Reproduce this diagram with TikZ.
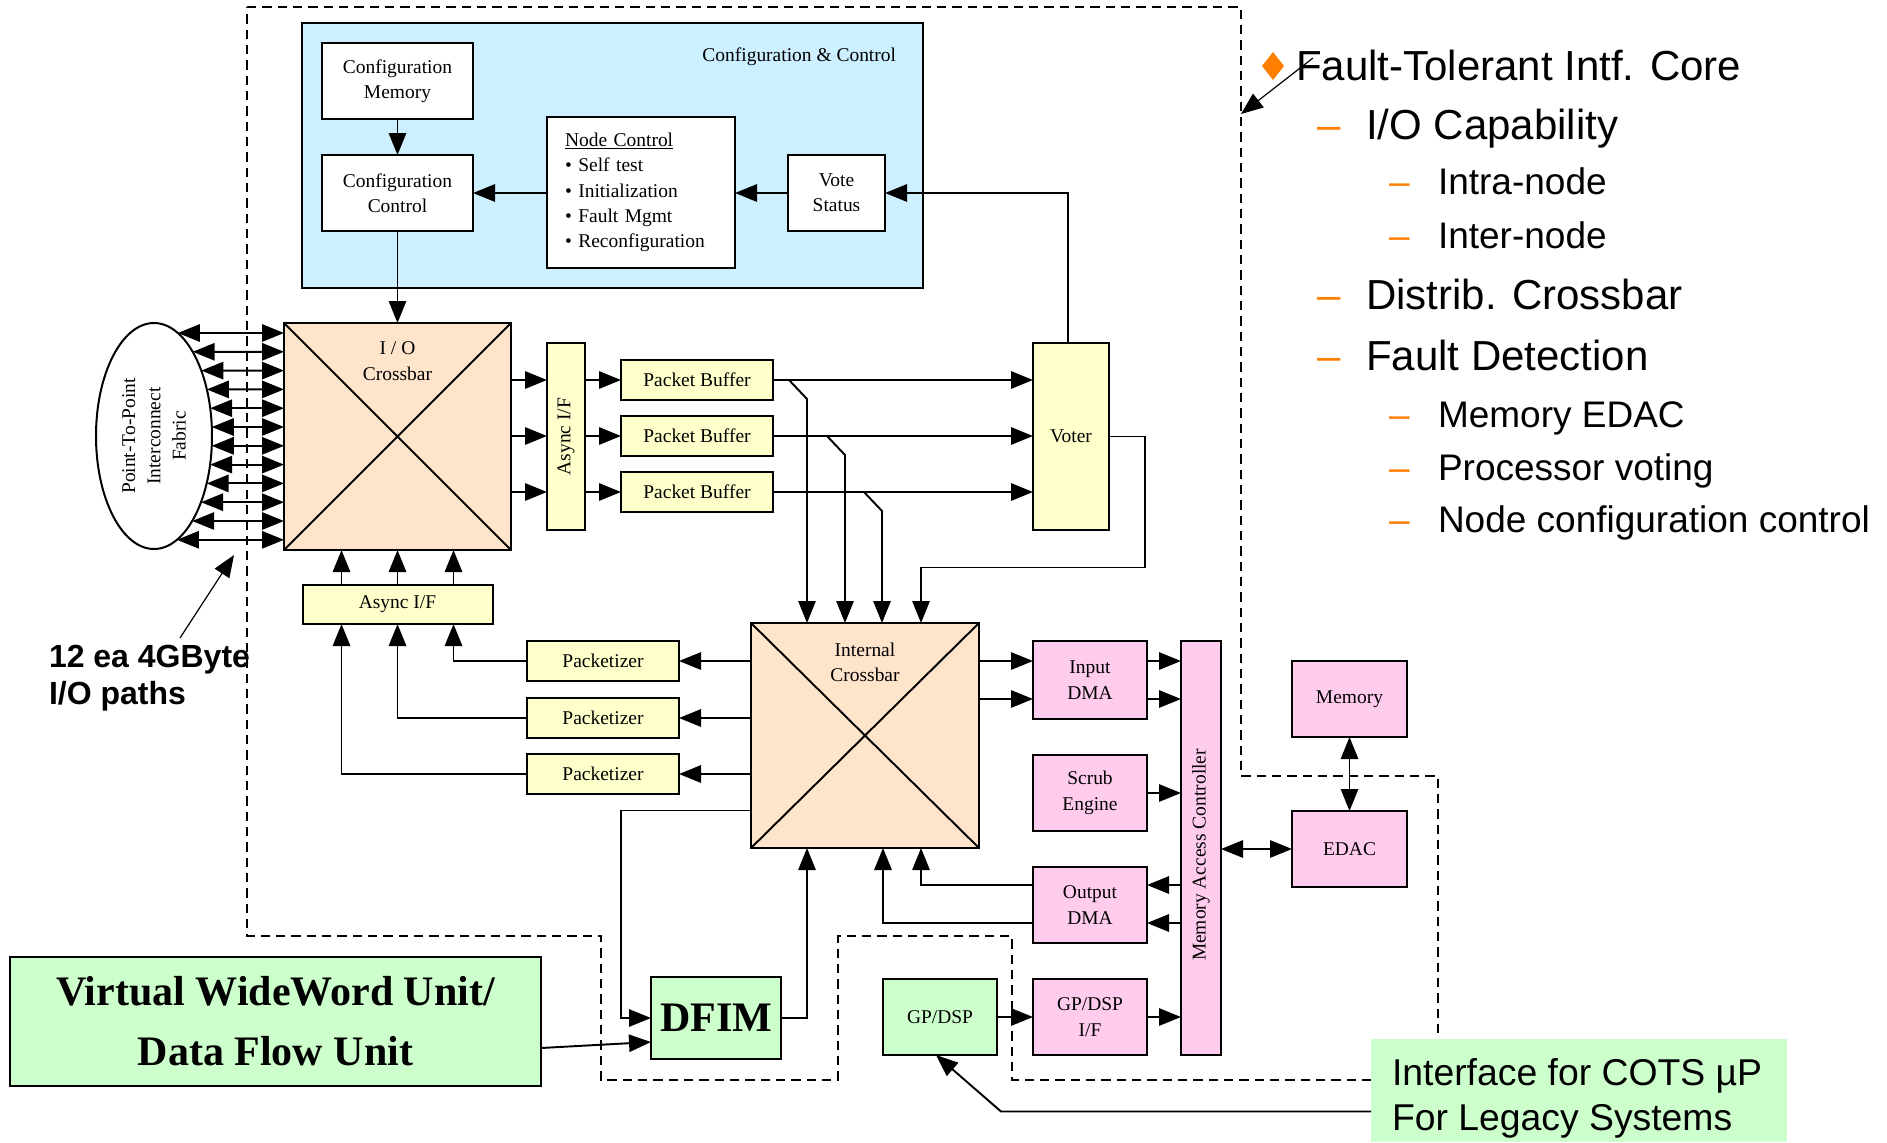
\documentclass[tikz,border=0pt]{standalone}
\usepackage{fontspec}
\setmainfont{Liberation Serif}
\newfontfamily\arialfont{Liberation Sans}
\usepackage{tikz}
\usetikzlibrary{calc}
\usetikzlibrary{positioning}
\usetikzlibrary{arrows.meta, shapes.geometric}

\newcommand\boxfont{\fontsize{14.6}{19}\selectfont}
\newcommand\bigbold{\fontsize{31.5}{45}\selectfont\bfseries}
\newcommand\listfont{\arialfont\fontsize{31.5}{38}\selectfont}
\newcommand\sublistfont{\arialfont\fontsize{27.75}{33}\selectfont}

\begin{document}
\begin{tikzpicture}[x=0.75pt,y=0.75pt,yscale=-1,xscale=1,
    every node/.style={inner sep=0pt,outer sep=0pt},
    sz/.style 2 args={minimum width=#1*0.75pt,minimum height=#2*0.75pt},
    blk/.style={draw,line width=1.5pt,align=center,font=\boxfont},
    ylw/.style={blk,fill={rgb, 255:red, 255; green, 255; blue, 204 }},
    pnk/.style={blk,fill={rgb, 255:red, 255; green, 204; blue, 238 }},
    grn/.style={blk,fill={rgb, 255:red, 204; green, 255; blue, 204 }},
    xbar/.style={blk,fill={rgb, 255:red, 255; green, 228; blue, 204 }},
    lbl/.style={align=center,font=\boxfont},
    wire/.style={line width=1.45pt},
    arr/.style={wire,-{Triangle[length=16.5pt,width=13pt]}},
    dbl/.style={wire,{Triangle[length=16.5pt,width=13pt]}-{Triangle[length=16.5pt,width=13pt]}},
    odash/.style={font=\listfont,text={rgb, 255:red, 255; green, 128; blue, 0 }}]
\useasboundingbox (0,0) rectangle (1887,1142);

%Dashed boundary
\draw [line width=1.1pt,dash pattern=on 7pt off 4.5pt] (247,7) -- (1241,7) -- (1241,776) -- (1438,776) -- (1438,1080) -- (1012,1080) -- (1012,936) -- (838,936) -- (838,1080) -- (601,1080) -- (601,936) -- (247,936) -- cycle ;

%Shape: Rectangle - configuration & control area
\node [blk,sz={621}{265},fill={rgb, 255:red, 204; green, 240; blue, 255 }] (cfgarea) at (612.5,155.5) {};
% Text Node
\node [lbl,anchor=east] (cfglbl) at (896,57) {Configuration \& Control};
\node [blk,sz={151}{76},fill=white] (cfgmem) at (397.5,81) {Configuration\\Memory};
\node [blk,sz={151}{76},fill=white] (cfgctl) at (397.5,193) {Configuration\\Control};
\node [blk,sz={188}{151},fill=white,text width=114pt,inner xsep=13.5pt,align=left] (nodectl) at (641,192.5) {\underline{Node Control}\\\textbullet\ Self test\\\textbullet\ Initialization\\\textbullet\ Fault Mgmt\\\textbullet\ Reconfiguration};
\node [blk,sz={97}{76},fill=white] (vote) at (836.5,193) {Vote\\Status};

\draw [arr] (cfgmem) -- (cfgctl);
\draw [arr] (nodectl.west |- cfgctl.east) -- (cfgctl.east);
\draw [arr] (vote.west) -- (nodectl.east |- vote.west);

%Shape: I/O crossbar
\node [xbar,sz={227}{227}] (ioxbar) at (397.5,436.5) {};
\draw [wire] (ioxbar.north west) -- (ioxbar.south east) (ioxbar.south west) -- (ioxbar.north east);
% Text Node
\node [lbl] (iolbl) at (397.5,361) {I / O\\Crossbar};
\draw [arr] (cfgctl.south) -- (ioxbar.north);

%Shape: Ellipse
\node [draw,ellipse,line width=1.5pt,fill=white,sz={116}{226}] (fabric) at (154,436) {};
\node [lbl,rotate=90] (fablbl) at (154,436) {Point-To-Point\\Interconnect\\Fabric};

%Straight Lines - 12 I/O paths
\foreach \i in {0,...,11} {
  \pgfmathsetmacro\yy{333+18.8*\i}
  \pgfmathsetmacro\xx{154+58*sqrt(1-((\yy-436)/113)^2)}
  \draw [dbl] (\xx,\yy) -- ($(ioxbar.west)+(0,\yy-436.5)$);
}

%Shape: Async I/F, packet buffers, voter
\node [ylw,sz={38}{187}] (asyncv) at (566,436.5) {};
\node [lbl,rotate=90] (asyncvlbl) at (566,436.5) {Async I/F};
\node [ylw,sz={76}{187}] (voter) at (1071,436.5) {Voter};
\foreach \n/\y in {1/380,2/436,3/492} {
  \node [ylw,sz={152}{40}] (pb\n) at (697,\y) {Packet Buffer};
  \draw [arr] (ioxbar.east |- pb\n) -- (asyncv.west |- pb\n);
  \draw [arr] (asyncv.east |- pb\n) -- (pb\n.west);
  \draw [arr] (pb\n.east) -- (voter.west |- pb\n);
}
\draw [arr] ($(voter.north)+(-3,0)$) |- (vote.east);

%Shape: Internal crossbar
\node [xbar,sz={228}{225}] (ixbar) at (865,735.5) {};
\draw [wire] (ixbar.north west) -- (ixbar.south east) (ixbar.south west) -- (ixbar.north east);
% Text Node
\node [lbl] (ixlbl) at (865,662) {Internal\\Crossbar};

% packet buffer taps into internal crossbar
\draw [arr] ($(pb1.east)+(16,0)$) -- ++(18,19) coordinate (br1) -- (br1 |- ixbar.north);
\draw [arr] ($(pb2.east)+(54,0)$) -- ++(18,19) coordinate (br2) -- (br2 |- ixbar.north);
\draw [arr] ($(pb3.east)+(91,0)$) -- ++(18,19) coordinate (br3) -- (br3 |- ixbar.north);
\draw [arr] (voter.east) -- ++(36,0) -- ++(0,131) -| ($(ixbar.north)+(56,0)$);

%Shape: Async I/F (bottom) and packetizers
\node [ylw,sz={190}{39}] (asynch) at (397.5,604.5) {Async I/F};
\foreach \dx in {-56,0,56}
  \draw [arr] ($(asynch.north)+(\dx,0)$) -- ($(ioxbar.south)+(\dx,0)$);
\foreach \n/\y/\dx in {1/661/56,2/718/0,3/774/-56} {
  \node [ylw,sz={152}{40}] (pz\n) at (603,\y) {Packetizer};
  \draw [arr] (ixbar.west |- pz\n) -- (pz\n.east);
  \draw [arr] (pz\n.west) -| ($(asynch.south)+(\dx,0)$);
}

%Shape: DFIM and VWU
\node [grn,sz={130}{82},font=\bigbold] (dfim) at (716,1018) {DFIM};
\node [grn,sz={531}{129},font=\bigbold] (vwu) at (275.5,1021) {Virtual WideWord Unit/\\Data Flow Unit};
\draw [arr] ($(ixbar.west)+(0,75)$) -- ++(-130,0) |- (dfim.west);
\draw [arr] (dfim.east) -| ($(ixbar.south)+(-58,0)$);
\draw [arr] ($(vwu.east)+(0,27)$) -- ($(dfim.west)+(0,24)$);

%Shape: memory side blocks
\node [pnk,sz={114}{78}] (indma) at (1090,680) {Input\\DMA};
\node [pnk,sz={114}{76}] (scrub) at (1090,793) {Scrub\\Engine};
\node [pnk,sz={114}{76}] (outdma) at (1090,905) {Output\\DMA};
\node [pnk,sz={114}{76}] (gpif) at (1090,1017) {GP/DSP\\I/F};
\node [grn,sz={114}{76}] (gpdsp) at (940,1017) {GP/DSP};
\node [pnk,sz={40}{414}] (mac) at (1201,848) {};
\node [lbl,rotate=90] (maclbl) at (1201,855) {Memory Access Controller};
\node [pnk,sz={115}{76}] (memory) at (1349.5,699) {Memory};
\node [pnk,sz={115}{76}] (edac) at (1349.5,849) {EDAC};

\path ($(indma.west)+(0,-19)$) coordinate (in1) ($(indma.west)+(0,19)$) coordinate (in2);
\draw [arr] (ixbar.east |- in1) -- (in1);
\draw [arr] (ixbar.east |- in2) -- (in2);
\draw [arr] (indma.east |- in1) -- (mac.west |- in1);
\draw [arr] (indma.east |- in2) -- (mac.west |- in2);
\draw [arr] (scrub.east) -- (mac.west |- scrub.east);
\path ($(outdma.east)+(0,-20)$) coordinate (od1) ($(outdma.east)+(0,18)$) coordinate (od2);
\draw [arr] (mac.west |- od1) -- (od1);
\draw [arr] (mac.west |- od2) -- (od2);
\draw [arr] (outdma.west |- od1) -| ($(ixbar.south)+(56,0)$);
\draw [arr] (outdma.west |- od2) -| ($(ixbar.south)+(18,0)$);
\draw [arr] (gpif.east) -- (mac.west |- gpif.east);
\draw [arr] (gpdsp) -- (gpif);
\draw [dbl] (mac.east |- edac.west) -- (edac.west);
\draw [dbl] (memory) -- (edac);

%Shape: COTS note
\node [fill={rgb, 255:red, 204; green, 255; blue, 204 },sz={416}{103}] (cots) at (1579,1090.5) {};
% Text Node
\node [anchor=west,align=left,font=\arialfont\fontsize{28}{33.75}\selectfont] (cotstxt) at (1392,1098) {Interface for COTS µP\\For Legacy Systems};
\draw [arr] ($(cots.west)+(0,21)$) -- ++(-370,0) -- ($(gpdsp.south)+(-4,0)$);

% Text Node - 12 I/O paths note
\node [anchor=base west,font=\arialfont\fontsize{24}{28}\selectfont\bfseries] (iopaths1) at (49,667) {12 ea 4GByte};
\node [anchor=base west,font=\arialfont\fontsize{24}{28}\selectfont\bfseries] (iopaths2) at (49,704) {I/O paths};
\coordinate (iotail) at (180,638);
\coordinate (iotip) at (234,555);
\draw [arr,line width=0.9pt] (iotail) -- (iotip);

% Text Node - feature list
\fill [fill={rgb, 255:red, 255; green, 128; blue, 0 }] (1273,52) -- (1284,66) -- (1273,80) -- (1262,66) -- cycle ;
\node [anchor=base west,font=\listfont] (ft) at (1296,80) {Fault-Tolerant Intf. Core};
\coordinate (ftail) at (1313,58);
\coordinate (ftip) at (1241,114);
\draw [arr,line width=0.9pt] (ftail) -- (ftip);
\node [odash,anchor=base west] (d1) at (1317,139.5) {–};
\node [anchor=base west,font=\listfont] (io) at (1366,139.5) {I/O Capability};
\node [odash,anchor=base west,font=\sublistfont] (d2) at (1389,194.5) {–};
\node [anchor=base west,font=\sublistfont] (intra) at (1438,194.5) {Intra-node};
\node [odash,anchor=base west,font=\sublistfont] (d3) at (1389,248) {–};
\node [anchor=base west,font=\sublistfont] (inter) at (1438,248) {Inter-node};
\node [odash,anchor=base west] (d4) at (1317,309) {–};
\node [anchor=base west,font=\listfont] (distrib) at (1366,309) {Distrib. Crossbar};
\node [odash,anchor=base west] (d5) at (1317,370) {–};
\node [anchor=base west,font=\listfont] (fdet) at (1366,370) {Fault Detection};
\node [odash,anchor=base west,font=\sublistfont] (d6) at (1389,427) {–};
\node [anchor=base west,font=\sublistfont] (medac) at (1438,427) {Memory EDAC};
\node [odash,anchor=base west,font=\sublistfont] (d7) at (1389,480) {–};
\node [anchor=base west,font=\sublistfont] (pvote) at (1438,480) {Processor voting};
\node [odash,anchor=base west,font=\sublistfont] (d8) at (1389,532) {–};
\node [anchor=base west,font=\sublistfont] (ncfg) at (1438,532) {Node configuration control};

\end{tikzpicture}
\end{document}
